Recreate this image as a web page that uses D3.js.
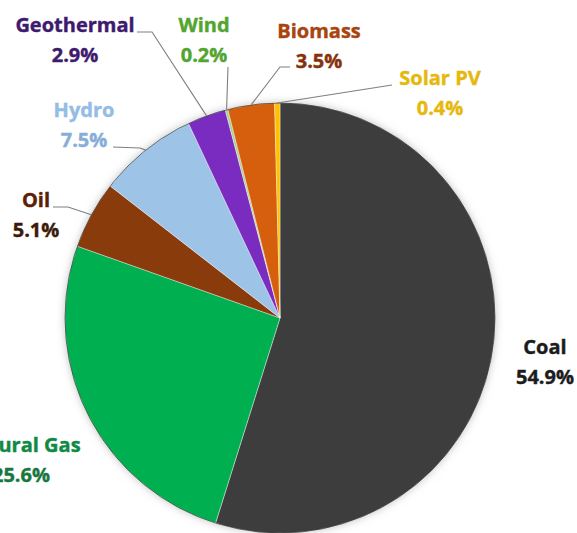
<!DOCTYPE html>
<html>
<head>
<meta charset="utf-8">
<script src="https://cdn.jsdelivr.net/npm/d3@7"></script>
<style>
  html, body { margin: 0; padding: 0; background: #fff; }
  svg { display: block; }
  text { font-family: "Open Sans", "Noto Sans", sans-serif; font-weight: 700; }
</style>
</head>
<body>
<div id="chart"></div>
<script>
// energy mix pie
const sources = ["Coal", "Natural Gas", "Oil", "Hydro", "Geothermal", "Wind", "Biomass", "Solar PV"];
const shares  = [54.9, 25.6, 5.1, 7.5, 2.9, 0.2, 3.5, 0.4];
const pctLabels = ["54.9%", "25.6%", "5.1%", "7.5%", "2.9%", "0.2%", "3.5%", "0.4%"];

// styles
const sliceColor = ["#3d3d3d", "#00b050", "#8a3b0c", "#9dc3e6", "#7a2cc0", "#a9d18e", "#d65f0d", "#ffc000"];
const nameColor  = ["#1c1c1c", "#0f8a44", "#5c2008", "#94bce4", "#3e1a6e", "#52a530", "#a8450f", "#e6b80e"];
const pctColor   = ["#1c1c1c", "#17773e", "#3c1a0a", "#86aed8", "#3e1a6e", "#52a530", "#86310c", "#e6b80e"];

// label layout: text centre x, first baseline y, and leader start points
const labelPos = {
  "Coal":        { x: 545, y: 354, lead: null },
  "Natural Gas": { x: 21,  y: 452, lead: null },
  "Oil":         { x: 36,  y: 207, lead: [[53, 207], [68, 207]] },
  "Hydro":       { x: 84,  y: 117, lead: [[113, 147], [140, 148]] },
  "Geothermal":  { x: 75,  y: 32,  lead: [[137, 32], [152, 32]] },
  "Wind":        { x: 204, y: 32,  lead: [[228, 67]] },
  "Biomass":     { x: 319, y: 38,  lead: [[290, 67], [280, 67]] },
  "Solar PV":    { x: 440, y: 85,  lead: [[392, 85]] }
};

const WIDTH = 577, HEIGHT = 533;
const CX = 280, CY = 318, R = 215;
const LINE_GAP = 30;

const svg = d3.select("#chart").append("svg")
  .attr("width", WIDTH)
  .attr("height", HEIGHT);

const defs = svg.append("defs");
const glow = defs.append("filter").attr("id", "glow")
  .attr("x", "-10%").attr("y", "-10%").attr("width", "120%").attr("height", "120%");
glow.append("feDropShadow")
  .attr("dx", 0).attr("dy", 0).attr("stdDeviation", 4)
  .attr("flood-color", "#888").attr("flood-opacity", 0.55);

const rows = sources.map((s, i) => ({ name: s, value: shares[i], i }));

const pie = d3.pie().sort(null).value(d => d.value);
const arcs = pie(rows);
const arc = d3.arc().innerRadius(0).outerRadius(R);
const edge = d3.arc().innerRadius(R).outerRadius(R);

const gPie = svg.append("g").attr("transform", `translate(${CX},${CY})`);

gPie.append("circle")
  .attr("r", R)
  .attr("fill", "#fff")
  .attr("filter", "url(#glow)");

gPie.selectAll("path.slice")
  .data(arcs)
  .join("path")
  .attr("class", "slice")
  .attr("d", arc)
  .attr("fill", d => sliceColor[d.data.i])
  .attr("stroke", "#ffffff")
  .attr("stroke-opacity", 0.55)
  .attr("stroke-width", 0.7)
  .attr("stroke-linejoin", "round");

gPie.append("circle")
  .attr("r", R)
  .attr("fill", "none")
  .attr("stroke", "#1a1a1a")
  .attr("stroke-opacity", 0.6)
  .attr("stroke-width", 1);

// leader lines: from label to slice mid-angle on the rim
const line = d3.line();
const gLead = svg.append("g");
arcs.forEach(d => {
  const pos = labelPos[d.data.name];
  if (!pos.lead) return;
  const c = edge.centroid(d);
  const pts = pos.lead.concat([[CX + c[0], CY + c[1]]]);
  gLead.append("path")
    .attr("d", line(pts))
    .attr("fill", "none")
    .attr("stroke", "#7f7f7f")
    .attr("stroke-width", 1.1);
});

// labels (thin stroke in the same colour to match the heavy original type)
const gLab = svg.append("g");
rows.forEach(d => {
  const pos = labelPos[d.name];
  gLab.append("text")
    .attr("x", pos.x).attr("y", pos.y)
    .attr("text-anchor", "middle")
    .attr("font-size", 20)
    .attr("fill", nameColor[d.i])
    .attr("stroke", nameColor[d.i])
    .attr("stroke-width", 0.4)
    .text(d.name);
  gLab.append("text")
    .attr("x", pos.x).attr("y", pos.y + LINE_GAP)
    .attr("text-anchor", "middle")
    .attr("font-size", 20)
    .attr("fill", pctColor[d.i])
    .attr("stroke", pctColor[d.i])
    .attr("stroke-width", 0.4)
    .text(pctLabels[d.i]);
});
</script>
</body>
</html>
